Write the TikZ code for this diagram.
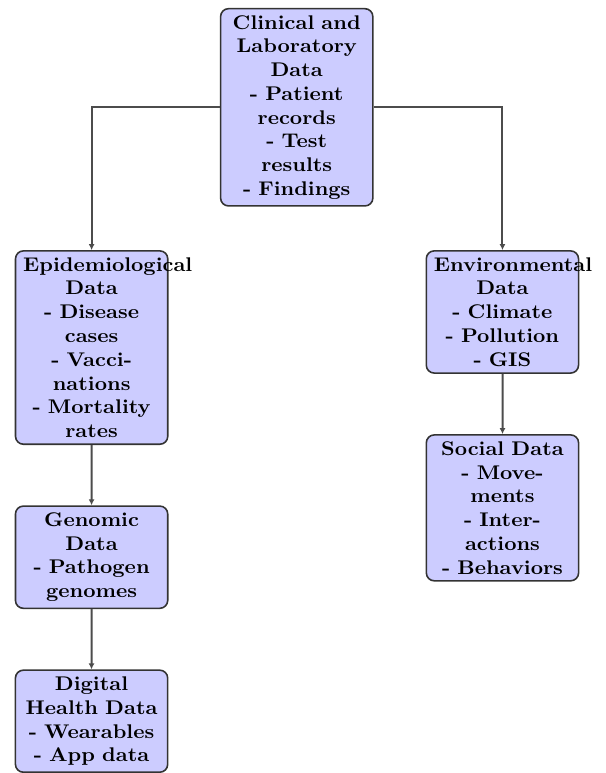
\documentclass[tikz,border=0pt]{standalone}
\usepackage{tikz}
\usetikzlibrary{positioning, calc, arrows.meta}

\begin{document}
\begin{tikzpicture}[
        xscale=1.08,
        node distance=1.07cm and 0.84cm,
        databox/.style={rectangle, draw=black!80, fill=blue!20, thick, rounded corners=4pt, text width=2.25cm, inner xsep=3.6pt, align=center, font=\bfseries, transform shape},
        arrow/.style={-{Latex[length=3pt,width=3pt]}, line width=1pt, draw=black!70}
    ]
        \node[databox] (clin) {Clinical and\\Laboratory\\Data\\- Patient\\records\\- Test\\results\\- Findings};

        \node[databox, below left=0.77cm and 0.84cm of clin.south west, anchor=north east] (epi) {Epidemiological\\Data\\- Disease\\cases\\- Vacci-\\nations\\- Mortality\\rates};
        \node[databox, below right=0.77cm and 0.85cm of clin.south east, anchor=north west] (env) {Environmental\\Data\\- Climate\\- Pollution\\- GIS};

        \node[databox, below=of epi] (gen) {Genomic\\Data\\- Pathogen\\genomes};
        \node[databox, below=of gen] (dig) {Digital\\Health Data\\- Wearables\\- App data};
        \node[databox, below=of env] (soc) {Social Data\\- Move-\\ments\\- Inter-\\actions\\- Behaviors};

        \draw[arrow] (clin.west) -| (epi.north);
        \draw[arrow] (clin.east) -| (env.north);
        \draw[arrow] (epi) -- (gen);
        \draw[arrow] (gen) -- (dig);
        \draw[arrow] (env) -- (soc);

        % margins
        \path ($(epi.west |- clin.north)+(-0.24,0.14)$) rectangle ($(env.east |- dig.south)+(0.42,0)$);
    \end{tikzpicture}
\end{document}
